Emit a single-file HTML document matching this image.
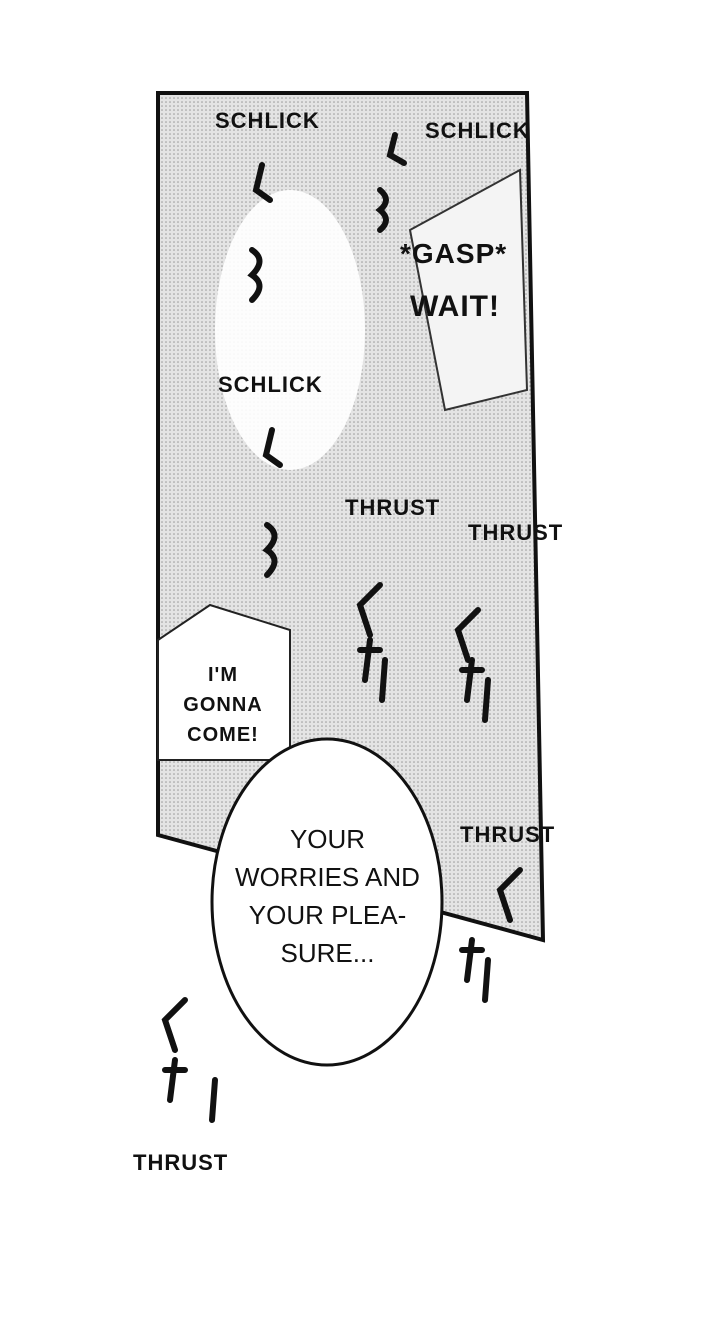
<!DOCTYPE html>
<html><head><meta charset="utf-8"><style>
html,body{margin:0;padding:0;background:#fff;}
body{width:720px;height:1334px;position:relative;overflow:hidden;font-family:"Liberation Sans",sans-serif;}
.t{position:absolute;font-weight:bold;color:#111;letter-spacing:1px;}
</style></head><body>
<svg width="720" height="1334" style="position:absolute;left:0;top:0">
<defs>
<pattern id="d" width="4" height="4" patternUnits="userSpaceOnUse"><rect width="4" height="4" fill="#e4e4e4"/><circle cx="2" cy="2" r="0.8" fill="#999"/></pattern>
</defs>
<polygon points="158,93 527,93 543,940 158,835" fill="url(#d)" stroke="#111" stroke-width="4"/>
<ellipse cx="290" cy="330" rx="75" ry="140" fill="#fff" opacity="0.9"/>
<polygon points="410,230 520,170 527,390 445,410" fill="#f4f4f4" stroke="#333" stroke-width="2"/>
<polygon points="158,640 210,605 290,630 290,760 158,760" fill="#fff" stroke="#222" stroke-width="2"/>
<ellipse cx="327" cy="902" rx="115" ry="163" fill="#fff" stroke="#111" stroke-width="3"/>
<g stroke="#111" stroke-width="6" fill="none" stroke-linecap="round">
<path d="M262,165 l-6,25 l14,10"/><path d="M252,250 q15,10 0,25 q15,10 0,25"/>
<path d="M395,135 l-5,20 l14,8"/><path d="M380,190 q12,10 0,20 q12,10 0,20"/>
<path d="M272,430 l-6,25 l14,10"/><path d="M267,525 q15,10 0,25 q15,10 0,25"/>
<path d="M380,585 l-20,20 l10,30"/><path d="M360,650 l20,0 M370,640 l-5,40 M385,660 l-3,40"/>
<path d="M478,610 l-20,20 l10,30"/><path d="M462,670 l20,0 M472,660 l-5,40 M488,680 l-3,40"/>
<path d="M520,870 l-20,20 l10,30"/><path d="M462,950 l20,0 M472,940 l-5,40 M488,960 l-3,40"/>
<path d="M185,1000 l-20,20 l10,30"/><path d="M165,1070 l20,0 M175,1060 l-5,40 M215,1080 l-3,40"/>
</g>
</svg>
<div class="t" style="left:215px;top:108px;font-size:22px">SCHLICK</div>
<div class="t" style="left:425px;top:118px;font-size:22px">SCHLICK</div>
<div class="t" style="left:400px;top:238px;font-size:28px">*GASP*</div>
<div class="t" style="left:410px;top:290px;font-size:30px">WAIT!</div>
<div class="t" style="left:218px;top:372px;font-size:22px">SCHLICK</div>
<div class="t" style="left:345px;top:495px;font-size:22px">THRUST</div>
<div class="t" style="left:468px;top:520px;font-size:22px">THRUST</div>
<div class="t" style="left:168px;top:660px;font-size:20px;line-height:30px;text-align:center;width:110px">I'M<br>GONNA<br>COME!</div>
<div class="t" style="left:215px;top:820px;width:225px;font-size:26px;font-weight:normal;line-height:38px;text-align:center;letter-spacing:0">YOUR<br>WORRIES AND<br>YOUR PLEA-<br>SURE...</div>
<div class="t" style="left:460px;top:822px;font-size:22px">THRUST</div>
<div class="t" style="left:133px;top:1150px;font-size:22px">THRUST</div>
</body></html>
